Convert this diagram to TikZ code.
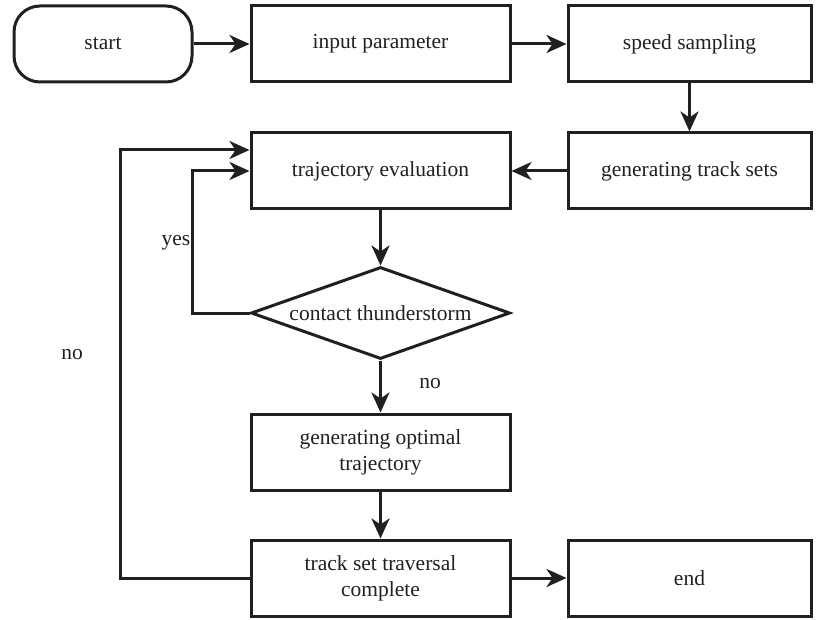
\documentclass[tikz,border=0pt]{standalone}
\usepackage{fontspec}
\setmainfont{Liberation Serif}
\usetikzlibrary{arrows.meta, shapes.geometric}
\definecolor{inkgray}{RGB}{35,31,32}
\tikzset{
  flow box/.style={
    draw=inkgray,
    text=inkgray,
    rectangle,
    line width=3pt,
    minimum height=76pt,
    inner sep=2pt,
    align=center,
    font=\fontsize{21.5}{26}\selectfont
  },
  term box/.style={
    flow box,
    rounded corners=26pt
  },
  check box/.style={
    draw=inkgray,
    text=inkgray,
    diamond,
    aspect=2.8,
    line width=3pt,
    inner sep=0pt,
    minimum width=259pt,
    minimum height=92pt,
    font=\fontsize{21.5}{26}\selectfont
  },
  flow arrow/.style={
    -{Stealth[length=20pt, width=18pt, inset=6pt]},
    line width=3pt,
    draw=inkgray
  },
  branch label/.style={
    text=inkgray,
    font=\fontsize{21.5}{26}\selectfont
  }
}

\begin{document}
\begin{tikzpicture}[x=1pt, y=-1pt]
    % 画布大小 819 x 620
    \useasboundingbox (0,0) rectangle (819,620);

    % 第一行
    \node[term box, minimum width=178pt] (start) at (103,44) {start};
    \node[flow box, minimum width=259pt] (input) at (380.5,44) {input parameter};
    \node[flow box, minimum width=243pt] (speed) at (689.5,44) {speed sampling};

    % 第二行
    \node[flow box, minimum width=259pt] (eval) at (380.5,171) {trajectory evaluation};
    \node[flow box, minimum width=243pt] (tracks) at (689.5,171) {generating track sets};

    % 判断
    \node[check box] (thunder) at (380.5,313) {contact thunderstorm};

    % 下面两行
    \node[flow box, minimum width=259pt] (optimal) at (380.5,452) {generating optimal\\trajectory};
    \node[flow box, minimum width=259pt] (traverse) at (380.5,578) {track set traversal\\complete};
    \node[flow box, minimum width=243pt] (end) at (689.5,578) {end};

    % 折线拐点
    \coordinate (yes bend) at (192,313);
    \coordinate (no bend) at (120,578);
    \coordinate (no top) at (120,150);

    % 连线
    \draw[flow arrow] (start) -- (input);
    \draw[flow arrow] (input) -- (speed);
    \draw[flow arrow] (speed) -- (tracks);
    \draw[flow arrow] (tracks) -- (eval);
    \draw[flow arrow] (eval) -- (thunder);
    \draw[flow arrow] (thunder) -- (optimal);
    \draw[flow arrow] (optimal) -- (traverse);
    \draw[flow arrow] (traverse) -- (end);

    % yes 回路
    \draw[flow arrow] (thunder.west) -- (yes bend) |- (eval.west);
    \node[branch label] (yes label) at (176,243) {yes};

    % no 回路
    \draw[flow arrow] (traverse.west) -- (no bend) -- (no top) -- (no top -| eval.west);
    \node[branch label] (no left) at (72,355) {no};
    \node[branch label] (no down) at (430,384) {no};
\end{tikzpicture}
\end{document}
